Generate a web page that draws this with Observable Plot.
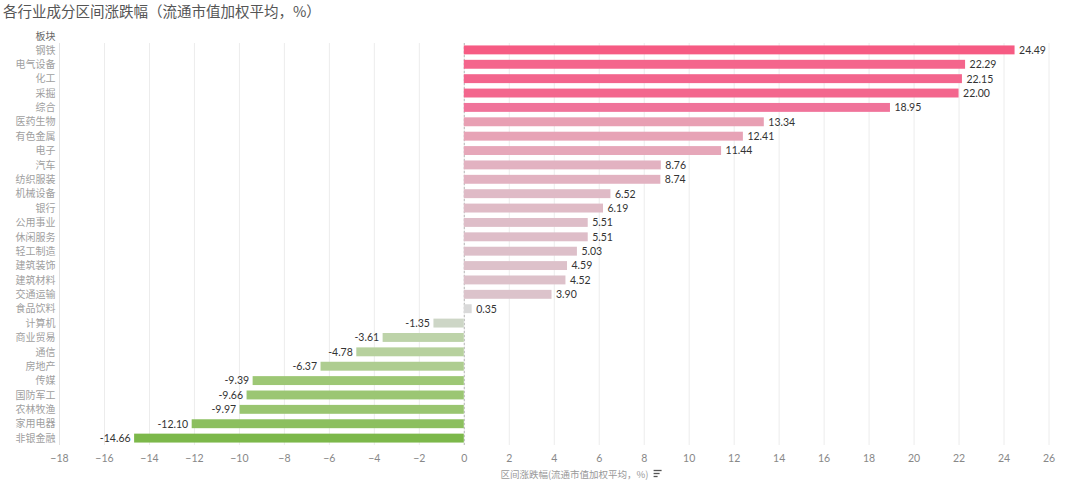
<!DOCTYPE html>
<html>
<head>
<meta charset="utf-8">
<script src="https://cdn.jsdelivr.net/npm/d3@7"></script>
<script src="https://cdn.jsdelivr.net/npm/@observablehq/plot@0.6"></script>
<style>
  html, body { margin: 0; padding: 0; background: #fff; }
  #title { height: 22px; line-height: 22px; padding-left: 3px; font-size: 14.5px; color: #555;
    font-family: "Noto Sans CJK SC", sans-serif; white-space: nowrap; overflow: hidden; }
  #chart svg { display: block; }
</style>
</head>
<body>
<div id="title">各行业成分区间涨跌幅（流通市值加权平均，%）</div>
<div id="chart"></div>
<script>
const sectors = ["钢铁","电气设备","化工","采掘","综合","医药生物","有色金属","电子","汽车","纺织服装","机械设备","银行","公用事业","休闲服务","轻工制造","建筑装饰","建筑材料","交通运输","食品饮料","计算机","商业贸易","通信","房地产","传媒","国防军工","农林牧渔","家用电器","非银金融"];
const changes = [24.49,22.29,22.15,22.00,18.95,13.34,12.41,11.44,8.76,8.74,6.52,6.19,5.51,5.51,5.03,4.59,4.52,3.90,0.35,-1.35,-3.61,-4.78,-6.37,-9.39,-9.66,-9.97,-12.10,-14.66];
const xTicks = [-18,-16,-14,-12,-10,-8,-6,-4,-2,0,2,4,6,8,10,12,14,16,18,20,22,24,26];
const colorStops = [-14.66,-9.39,-3.61,-1.35,0.35,3.9,8.76,13.34,18.95,24.49];
const colorRange = ["#7cb84a","#9dc775","#bdd3a9","#cdd6c6","#d9d9d9","#dcc3cb","#e2b2c1","#e89fb3","#f0739a","#f65b83"];
const axisTitle = "区间涨跌幅(流通市值加权平均，%)";

const data = sectors.map((s, i) => ({sector: s, value: changes[i]}));
const colorOf = d3.scaleLinear().domain(colorStops).range(colorRange).clamp(true);
const font = "Lato, 'Noto Sans CJK SC', sans-serif";
const cjk = "'Noto Sans CJK SC', sans-serif";

const chart = Plot.plot({
  width: 1080,
  height: 462,
  marginTop: 21,
  marginBottom: 39,
  marginLeft: 59,
  marginRight: 9,
  style: {fontFamily: font, fontSize: "10px", color: "#888", background: "#fff"},
  x: {domain: [-18, 27], ticks: xTicks, tickFormat: d => d, label: null},
  y: {domain: sectors, paddingInner: 0.38, paddingOuter: 0.17, round: false, label: null},
  marks: [
    Plot.ruleX(xTicks, {stroke: "#ececec", strokeWidth: 1}),
    Plot.ruleX([-18], {stroke: "#e2e2e2"}),
    Plot.ruleY([0], {frameAnchor: "bottom", stroke: "#e2e2e2"}),
    Plot.ruleX([0], {stroke: "#bbb", strokeDasharray: "2,2"}),
    Plot.barX(data, {x: "value", y: "sector", fill: d => colorOf(d.value)}),
    Plot.text(data.filter(d => d.value >= 0), {x: "value", y: "sector", text: d => d.value.toFixed(2), textAnchor: "start", dx: 4, fill: "#333", fontSize: 10.5}),
    Plot.text(data.filter(d => d.value < 0), {x: "value", y: "sector", text: d => d.value.toFixed(2), textAnchor: "end", dx: -4, fill: "#333", fontSize: 10.5}),
    Plot.axisX({ticks: xTicks, tickSize: 0, tickPadding: 9, fontSize: 10.5, fill: "#888", label: null}),
    Plot.axisY({tickSize: 0, tickPadding: 4, fontSize: 10, fill: "#a0a0a0", label: null, fontFamily: cjk}),
    Plot.text(["板块"], {frameAnchor: "top-left", lineAnchor: "middle", dx: -4, dy: -7, textAnchor: "end", fill: "#666", fontSize: 10, fontFamily: cjk}),
    Plot.text([axisTitle], {frameAnchor: "bottom", dx: 9, dy: 32, fill: "#999", fontSize: 9.5, fontFamily: cjk})
  ]
});
document.getElementById("chart").appendChild(chart);

// small sort icon after the axis title
const lbl = Array.from(chart.querySelectorAll("text")).find(t => t.textContent === axisTitle);
if (lbl) {
  const r = lbl.getBoundingClientRect(), s = chart.getBoundingClientRect();
  const x0 = r.right - s.left + 5, yc = (r.top + r.bottom) / 2 - s.top;
  const g = d3.select(chart).append("g").attr("stroke", "#555").attr("stroke-width", 1.3).attr("fill", "none");
  [[-3, 8], [0, 6], [3, 4]].forEach(([dy, w]) => g.append("line").attr("x1", x0).attr("x2", x0 + w).attr("y1", yc + dy).attr("y2", yc + dy));
}
</script>
</body>
</html>
